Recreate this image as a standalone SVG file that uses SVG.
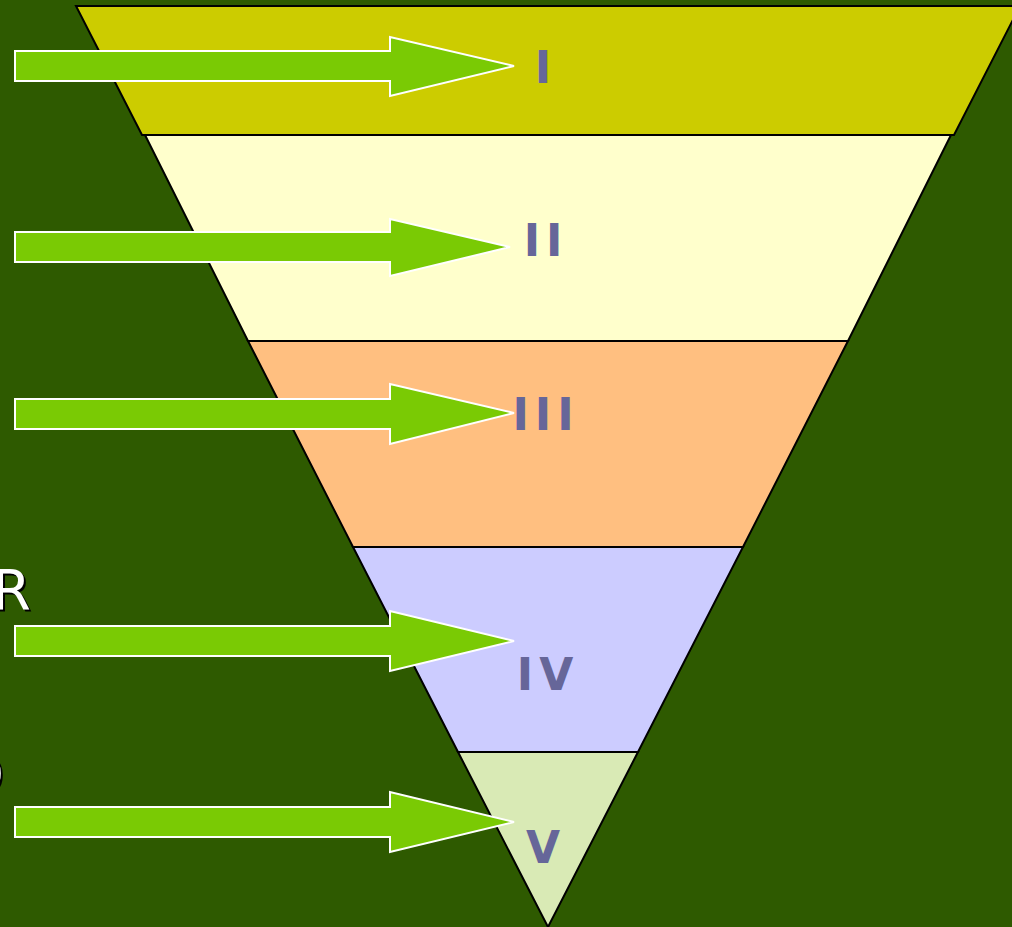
<svg xmlns="http://www.w3.org/2000/svg" width="1012" height="927" viewBox="0 0 1012 927">
<style>
.band{stroke:#000;stroke-width:2;stroke-linejoin:miter}
.arrow{fill:#7ACA04;stroke:#fff;stroke-width:2}
.lbl{font-family:"DejaVu Sans",Verdana,sans-serif;font-weight:bold;font-size:44px;fill:#666699;text-anchor:middle;letter-spacing:6px}
.side{font-family:"DejaVu Sans",Verdana,sans-serif;font-size:56px}
</style>
<rect width="1012" height="927" fill="#2E5A00"/>
<g id="band1"><polygon class="band" fill="#CCCC00" points="76,6 1020,6 954,135 142,135"/><text class="lbl" x="546" y="83">I</text></g>
<g id="band2"><polygon class="band" fill="#FFFFCC" points="145,135 951,135 848,341 248,341"/><text class="lbl" x="546" y="256">II</text></g>
<g id="band3"><polygon class="band" fill="#FFBF80" points="248,341 848,341 743,547 353,547"/><text class="lbl" x="546" y="430">III</text></g>
<g id="band4"><polygon class="band" fill="#CCCCFF" points="353,547 743,547 638,752 458,752"/><text class="lbl" x="548" y="690">IV</text></g>
<g id="band5"><polygon class="band" fill="#D9EAB5" points="458,752 638,752 548,927"/><text class="lbl" x="546" y="863">V</text></g>
<g id="side-text">
<text class="side" x="-6" y="611" fill="#000">R</text>
<text class="side" x="-8" y="609" fill="#fff">R</text>
<text class="side" x="-37" y="795" fill="#000">D</text>
<text class="side" x="-39" y="793" fill="#fff">D</text>
</g>
<g id="connectors">
<polygon class="arrow" points="15,51 390,51 390,37 514,66 390,96 390,81 15,81"/>
<polygon class="arrow" points="15,232 390,232 390,219 510,247 390,276 390,262 15,262"/>
<polygon class="arrow" points="15,399 390,399 390,384 514,413 390,444 390,429 15,429"/>
<polygon class="arrow" points="15,626 390,626 390,611 514,641 390,671 390,656 15,656"/>
<polygon class="arrow" points="15,807 390,807 390,792 514,822 390,852 390,837 15,837"/>
</g>
</svg>
